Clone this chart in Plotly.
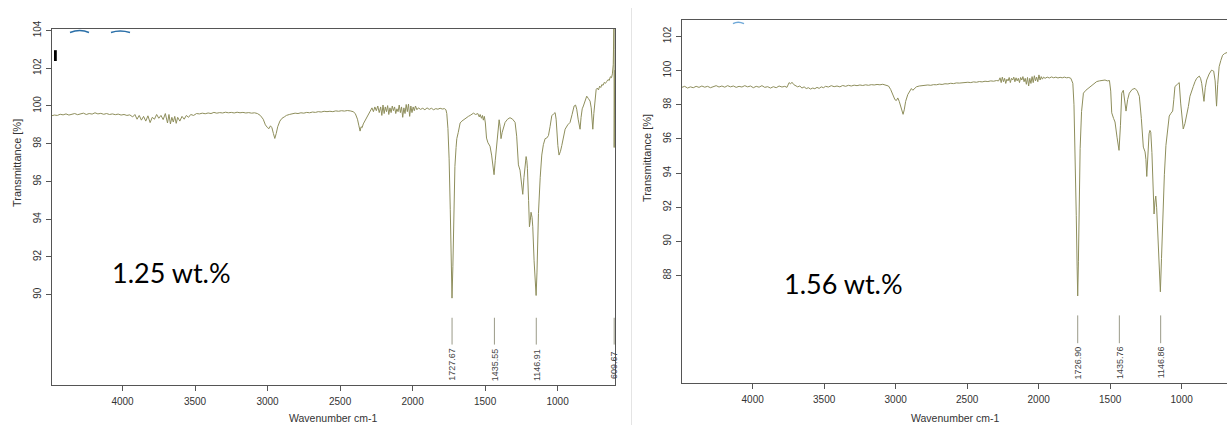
import plotly.graph_objects as go

# ---------------- data ----------------
wn_125 = [4490, 4470, 4450, 4430, 4410, 4390, 4370, 4350, 4330, 4310, 4290, 4270, 4250, 4230, 4210, 4190,
          4170, 4150, 4130, 4110, 4090, 4070, 4050, 4030, 4010, 3990, 3970, 3950, 3930, 3915, 3900, 3885,
          3870, 3855, 3840, 3825, 3810, 3795, 3780, 3765, 3750, 3735, 3720, 3705, 3690, 3680, 3670, 3660,
          3650, 3640, 3630, 3620, 3605, 3590, 3575, 3560, 3545, 3530, 3510, 3490, 3470, 3450, 3430, 3410,
          3390, 3370, 3350, 3330, 3310, 3290, 3270, 3250, 3230, 3210, 3190, 3170, 3150, 3130, 3110, 3090,
          3070, 3050, 3030, 3015, 3000, 2990, 2980, 2970, 2960, 2950, 2940, 2930, 2915, 2900, 2885, 2870,
          2850, 2830, 2810, 2790, 2770, 2750, 2730, 2710, 2690, 2670, 2650, 2630, 2610, 2590, 2570, 2550,
          2530, 2510, 2490, 2470, 2450, 2430, 2410, 2395, 2380, 2370, 2362, 2355, 2348, 2340, 2330, 2315,
          2300, 2290, 2280, 2270, 2260, 2250, 2240, 2230, 2220, 2212, 2204, 2196, 2188, 2180, 2172, 2164,
          2156, 2148, 2140, 2132, 2124, 2116, 2108, 2100, 2092, 2084, 2076, 2068, 2060, 2052, 2044, 2036,
          2028, 2020, 2012, 2004, 1996, 1988, 1980, 1970, 1960, 1945, 1930, 1915, 1900, 1885, 1870, 1855,
          1840, 1825, 1810, 1795, 1780, 1770, 1764, 1756, 1748, 1740, 1734, 1728, 1722, 1715, 1708, 1700,
          1695, 1685, 1672, 1660, 1645, 1630, 1615, 1603, 1590, 1580, 1565, 1550, 1540, 1534, 1525, 1518,
          1512, 1505, 1498, 1490, 1480, 1466, 1455, 1446, 1438, 1430, 1419, 1410, 1403, 1396, 1390, 1382,
          1372, 1362, 1345, 1328, 1310, 1293, 1282, 1270, 1259, 1250, 1240, 1232, 1222, 1217, 1212, 1208,
          1200, 1194, 1188, 1183, 1176, 1171, 1162, 1153, 1148, 1142, 1132, 1120, 1109, 1098, 1086, 1075,
          1063, 1052, 1040, 1028, 1017, 1010, 1006, 998, 990, 980, 971, 960, 948, 930, 914, 900,
          886, 876, 868, 858, 850, 845, 838, 830, 822, 810, 799, 788, 776, 768, 762, 757,
          750, 742, 734, 726, 718, 710, 702, 695, 686, 678, 670, 661, 652, 644, 636, 628,
          622, 616, 613, 611, 610.5, 609.67, 608, 606]
t_125 = [99.48, 99.52, 99.50, 99.56, 99.53, 99.58, 99.52, 99.55, 99.60, 99.54, 99.57, 99.62, 99.55, 99.60, 99.57, 99.64,
         99.58, 99.61, 99.56, 99.60, 99.55, 99.58, 99.54, 99.57, 99.52, 99.55, 99.50, 99.53, 99.42, 99.55, 99.30, 99.50,
         99.25, 99.45, 99.20, 99.48, 99.12, 99.40, 99.30, 99.55, 99.35, 99.50, 99.28, 99.60, 99.10, 99.55, 99.05, 99.40,
         99.15, 99.45, 99.08, 99.40, 99.20, 99.45, 99.30, 99.50, 99.40, 99.55, 99.50, 99.60, 99.58, 99.62, 99.59, 99.63,
         99.60, 99.66, 99.62, 99.65, 99.63, 99.67, 99.64, 99.66, 99.63, 99.67, 99.64, 99.66, 99.63, 99.65, 99.62, 99.64,
         99.60, 99.50, 99.30, 99.00, 98.85, 98.80, 98.95, 98.85, 98.55, 98.28, 98.55, 98.90, 99.20, 99.35, 99.42, 99.50,
         99.55, 99.58, 99.62, 99.60, 99.64, 99.62, 99.66, 99.64, 99.68, 99.66, 99.70, 99.68, 99.72, 99.70, 99.72, 99.70,
         99.74, 99.72, 99.75, 99.73, 99.76, 99.74, 99.70, 99.60, 99.30, 98.95, 98.67, 98.90, 98.85, 99.05, 99.20, 99.45,
         99.60, 99.75, 99.90, 99.70, 99.95, 99.75, 100.00, 99.65, 99.95, 99.50, 100.05, 99.60, 99.95, 99.70, 100.02, 99.55,
         99.90, 99.65, 100.00, 99.75, 99.95, 99.60, 99.85, 99.70, 100.05, 99.65, 99.95, 99.40, 99.90, 99.60, 100.08, 99.70,
         100.10, 99.45, 100.00, 99.65, 99.95, 99.75, 100.00, 99.80, 99.90, 99.82, 99.88, 99.80, 99.90, 99.82, 99.88, 99.80,
         99.86, 99.83, 99.88, 99.84, 99.86, 99.80, 99.60, 98.80, 97.20, 94.50, 91.80, 89.82, 91.50, 94.50, 96.80, 97.80,
         98.27, 98.60, 99.10, 99.20, 99.30, 99.35, 99.45, 99.50, 99.58, 99.62, 99.55, 99.60, 99.42, 99.55, 99.35, 99.50,
         99.25, 99.45, 99.10, 98.30, 98.05, 97.87, 97.40, 96.80, 96.36, 97.10, 98.10, 98.90, 99.27, 98.90, 98.27, 98.60,
         98.90, 99.13, 99.30, 99.38, 99.30, 99.13, 98.40, 96.88, 96.60, 96.10, 95.32, 96.20, 97.10, 97.32, 97.10, 96.70,
         95.00, 93.60, 93.95, 94.37, 94.10, 93.60, 91.80, 90.40, 89.96, 91.20, 94.30, 96.20, 97.40, 97.95, 98.27, 98.30,
         98.43, 98.90, 99.48, 99.58, 99.65, 99.30, 98.60, 97.90, 97.40, 97.60, 97.90, 98.40, 98.77, 99.00, 99.13, 99.55,
         100.00, 100.05, 99.83, 99.30, 98.90, 98.77, 99.40, 99.85, 100.00, 100.30, 100.52, 100.40, 100.26, 99.90, 99.20, 98.77,
         99.60, 100.50, 100.87, 100.95, 100.85, 101.05, 100.98, 101.13, 101.10, 101.25, 101.20, 101.30, 101.40, 101.35, 101.55, 101.50,
         101.70, 102.20, 102.95, 104.50, 103.00, 97.80, 100.50, 101.90]

wn_156 = [4495, 4475, 4455, 4435, 4415, 4395, 4375, 4355, 4335, 4315, 4295, 4275, 4255, 4235, 4215, 4195,
          4175, 4155, 4135, 4115, 4095, 4075, 4055, 4035, 4015, 3995, 3975, 3955, 3935, 3915, 3895, 3875,
          3855, 3835, 3815, 3795, 3775, 3760, 3745, 3735, 3725, 3712, 3700, 3685, 3670, 3655, 3640, 3625,
          3610, 3595, 3580, 3565, 3550, 3535, 3520, 3505, 3490, 3470, 3450, 3430, 3410, 3390, 3370, 3350,
          3330, 3310, 3290, 3270, 3250, 3230, 3210, 3190, 3170, 3150, 3130, 3110, 3090, 3070, 3050, 3035,
          3020, 3005, 2995, 2985, 2975, 2965, 2955, 2948, 2940, 2930, 2915, 2900, 2890, 2880, 2870, 2855,
          2835, 2815, 2795, 2775, 2755, 2735, 2715, 2695, 2675, 2655, 2635, 2615, 2595, 2575, 2555, 2535,
          2515, 2495, 2475, 2455, 2435, 2415, 2395, 2375, 2355, 2335, 2315, 2295, 2280, 2270, 2262, 2254,
          2246, 2238, 2230, 2222, 2214, 2206, 2198, 2190, 2182, 2174, 2166, 2158, 2150, 2142, 2134, 2126,
          2118, 2110, 2102, 2094, 2086, 2078, 2070, 2062, 2054, 2046, 2038, 2030, 2022, 2014, 2006, 1998,
          1990, 1982, 1974, 1966, 1955, 1940, 1925, 1910, 1895, 1880, 1865, 1850, 1835, 1820, 1805, 1790,
          1775, 1761, 1753, 1745, 1737, 1731, 1726.9, 1722, 1716, 1710, 1700, 1687, 1670, 1652, 1630, 1610,
          1594, 1575, 1555, 1536, 1520, 1505, 1496, 1489, 1476, 1466, 1452, 1438, 1428, 1419, 1408, 1398,
          1389, 1378, 1366, 1346, 1326, 1310, 1296, 1282, 1268, 1256, 1250, 1244, 1236, 1228, 1222, 1216,
          1208, 1202, 1193, 1187, 1181, 1175, 1170, 1160, 1149, 1141, 1133, 1121, 1110, 1098, 1087, 1075,
          1063, 1055, 1047, 1030, 1017, 1007, 998, 989, 977, 965, 953, 942, 930, 919, 907, 895,
          877, 868, 860, 852, 844, 835, 825, 808, 791, 783, 776, 766, 756, 748, 738, 726,
          714, 700, 686, 672, 660, 645, 630, 615, 605]
t_156 = [99.02, 99.08, 98.98, 99.05, 99.00, 99.08, 99.02, 99.10, 99.03, 99.08, 99.00, 99.06, 99.12, 99.04, 99.10, 99.03,
         99.12, 99.05, 99.10, 99.02, 99.08, 99.04, 99.12, 99.05, 99.10, 99.00, 99.08, 99.03, 99.12, 99.02, 99.06, 98.98,
         99.06, 99.00, 99.10, 99.04, 99.08, 99.02, 99.30, 99.22, 99.32, 99.18, 99.12, 99.05, 99.10, 98.98, 99.05, 98.95,
         99.00, 98.92, 98.98, 98.94, 99.02, 98.96, 99.05, 99.00, 99.08, 99.04, 99.12, 99.06, 99.10, 99.05, 99.13, 99.08,
         99.14, 99.10, 99.15, 99.12, 99.16, 99.13, 99.17, 99.14, 99.18, 99.16, 99.19, 99.17, 99.20, 99.17, 99.10, 98.90,
         98.60, 98.30, 98.25, 98.40, 98.20, 97.90, 97.60, 97.44, 97.70, 98.20, 98.60, 98.80, 98.95, 98.85, 98.95, 99.05,
         99.10, 99.13, 99.12, 99.16, 99.14, 99.18, 99.17, 99.21, 99.19, 99.23, 99.22, 99.26, 99.24, 99.28, 99.27, 99.30,
         99.29, 99.32, 99.30, 99.34, 99.32, 99.36, 99.34, 99.38, 99.36, 99.40, 99.38, 99.42, 99.40, 99.58, 99.30, 99.62,
         99.35, 99.55, 99.25, 99.50, 99.40, 99.60, 99.30, 99.55, 99.45, 99.62, 99.35, 99.58, 99.40, 99.55, 99.30, 99.60,
         99.45, 99.65, 99.35, 99.55, 99.20, 99.60, 99.10, 99.55, 99.25, 99.65, 99.30, 99.70, 99.40, 99.62, 99.35, 99.75,
         99.45, 99.65, 99.50, 99.62, 99.55, 99.62, 99.57, 99.63, 99.58, 99.62, 99.57, 99.61, 99.58, 99.62, 99.58, 99.60,
         99.55, 99.26, 98.00, 95.43, 91.50, 88.50, 86.80, 88.80, 92.50, 95.43, 97.60, 98.68, 98.85, 98.96, 99.10, 99.25,
         99.36, 99.40, 99.43, 99.45, 99.40, 99.42, 98.80, 97.53, 97.20, 96.99, 96.10, 95.33, 96.80, 98.68, 98.85, 98.30,
         97.63, 98.30, 98.68, 98.90, 98.96, 98.80, 98.50, 97.20, 95.52, 95.24, 94.80, 93.80, 95.20, 96.30, 96.50, 96.39,
         95.20, 93.70, 91.60, 92.30, 92.65, 92.00, 91.20, 88.80, 87.04, 89.00, 91.60, 93.90, 95.62, 96.70, 97.34, 97.50,
         97.63, 98.30, 99.07, 99.20, 99.30, 98.10, 97.20, 96.58, 96.90, 97.34, 97.90, 98.50, 98.85, 99.07, 99.35, 99.55,
         99.68, 99.55, 99.26, 98.70, 98.20, 99.00, 99.45, 99.80, 100.03, 100.00, 99.97, 99.40, 97.92, 99.20, 100.23, 100.60,
         100.90, 101.00, 101.06, 101.10, 101.05, 101.15, 101.10, 101.20, 101.15]

peaks_125 = [1727.67, 1435.55, 1146.91, 609.67]
peak_labels_125 = ["1727.67", "1435.55", "1146.91", "609.67"]
peaks_156 = [1726.90, 1435.76, 1146.86]
peak_labels_156 = ["1726.90", "1435.76", "1146.86"]

x_ticks = [4000, 3500, 3000, 2500, 2000, 1500, 1000]
y_ticks_125 = [90, 92, 94, 96, 98, 100, 102, 104]
y_ticks_156 = [88, 90, 92, 94, 96, 98, 100, 102]

sample_labels = ["1.25 wt.%", "1.56 wt.%"]

# ---------------- layout helpers (pixel -> paper) ----------------
W, H = 1227, 425
def px(v):
    return v / W
def py(v):
    return 1 - v / H

LINE = "#8e8e5c"
AX = "#555555"
TICKFONT = dict(family="Liberation Sans, Arial, sans-serif", size=10, color="#333333")

fig = go.Figure()
fig.add_trace(go.Scatter(x=wn_125, y=t_125, mode="lines", line=dict(color=LINE, width=1),
                         xaxis="x", yaxis="y", showlegend=False, hoverinfo="skip"))
fig.add_trace(go.Scatter(x=wn_156, y=t_156, mode="lines", line=dict(color=LINE, width=1),
                         xaxis="x2", yaxis="y2", showlegend=False, hoverinfo="skip"))

common_x = dict(tickvals=x_ticks, ticks="outside", ticklen=5, tickcolor=AX, showgrid=False,
                zeroline=False, showline=True, linecolor=AX, linewidth=1, mirror=True,
                tickfont=TICKFONT, ticklabelstandoff=2)
common_y = dict(ticks="outside", ticklen=5, tickcolor=AX, showgrid=False, zeroline=False,
                showline=True, linecolor=AX, linewidth=1, tickangle=-90, tickfont=TICKFONT,
                ticklabelstandoff=1)

fig.update_layout(
    width=W, height=H, margin=dict(l=0, r=0, t=0, b=0),
    paper_bgcolor="white", plot_bgcolor="white",
    xaxis=dict(domain=[px(51.5), px(615)], range=[4490, 604], anchor="y", **common_x),
    yaxis=dict(domain=[py(384), py(21)], range=[85.23, 104.1], tickvals=y_ticks_125,
               anchor="x", mirror=True, **common_y),
    xaxis2=dict(domain=[px(681.7), 1.0], range=[4496, 683], anchor="y2", **common_x),
    yaxis2=dict(domain=[py(382.7), py(12.7)], range=[81.67, 102.94], tickvals=y_ticks_156,
                anchor="x2", mirror=False, **common_y),
)

shapes = []
annotations = []
# peak marker lines + labels
for wn, lab in zip(peaks_125, peak_labels_125):
    shapes.append(dict(type="line", xref="x", yref="y", x0=wn, x1=wn, y0=88.78, y1=87.36,
                       line=dict(color="#9a9a88", width=1)))
    annotations.append(dict(x=wn, y=86.29, xref="x", yref="y", text=lab, textangle=-90,
                            xanchor="center", yanchor="middle", showarrow=False,
                            font=dict(family="Liberation Sans, Arial", size=9, color="#444")))
for wn, lab in zip(peaks_156, peak_labels_156):
    shapes.append(dict(type="line", xref="x2", yref="y2", x0=wn, x1=wn, y0=85.66, y1=84.03,
                       line=dict(color="#9a9a88", width=1)))
    annotations.append(dict(x=wn, y=82.89, xref="x2", yref="y2", text=lab, textangle=-90,
                            xanchor="center", yanchor="middle", showarrow=False,
                            font=dict(family="Liberation Sans, Arial", size=9, color="#444")))

# divider between the two panels
shapes.append(dict(type="line", xref="paper", yref="paper", x0=px(631.5), x1=px(631.5), y0=0, y1=1,
                   line=dict(color="#e4e4e4", width=1)))
# small scanning artefacts near the top-left of each panel
shapes.append(dict(type="rect", xref="paper", yref="paper", x0=px(54), x1=px(56.8), y0=py(54), y1=py(43),
                   fillcolor="black", line=dict(width=0)))
shapes.append(dict(type="path", xref="paper", yref="paper",
                   path=f"M {px(70)} {py(25)} Q {px(80)} {py(21)} {px(89)} {py(25)}",
                   line=dict(color="#2a6fa8", width=1.5)))
shapes.append(dict(type="path", xref="paper", yref="paper",
                   path=f"M {px(111)} {py(25)} Q {px(120)} {py(22)} {px(130)} {py(25)}",
                   line=dict(color="#2a6fa8", width=1.5)))
shapes.append(dict(type="path", xref="paper", yref="paper",
                   path=f"M {px(733)} {py(16)} Q {px(738)} {py(13)} {px(744)} {py(16)}",
                   line=dict(color="#6fa8d8", width=1.5)))

# axis titles
for xc in [px(333), px(955)]:
    annotations.append(dict(x=xc, y=0, xanchor="center", yanchor="bottom", xref="paper", yref="paper",
                            text="Wavenumber cm-1", borderpad=0, showarrow=False,
                            font=dict(family="Liberation Sans, Arial", size=10.5, color="#333")))
for xc, yc in [(px(17), py(158)), (px(647), py(153))]:
    annotations.append(dict(x=xc, y=yc, xanchor="center", yanchor="middle", xref="paper", yref="paper",
                            text="Transmittance [%]", textangle=-90, showarrow=False,
                            font=dict(family="Liberation Sans, Arial", size=11, color="#333")))
# sample labels
annotations.append(dict(x=px(171), y=py(270), xanchor="center", yanchor="middle", xref="paper", yref="paper",
                        text=sample_labels[0], showarrow=False,
                        font=dict(family="Lato, Carlito, sans-serif", size=27, color="black")))
annotations.append(dict(x=px(844), y=py(281), xanchor="center", yanchor="middle", xref="paper", yref="paper",
                        text=sample_labels[1], showarrow=False,
                        font=dict(family="Lato, Carlito, sans-serif", size=27, color="black")))

fig.update_layout(shapes=shapes, annotations=annotations)
fig.write_html("out.html", config={"displayModeBar": False},
               post_script="document.body.style.margin='0';document.body.style.overflow='hidden';")
